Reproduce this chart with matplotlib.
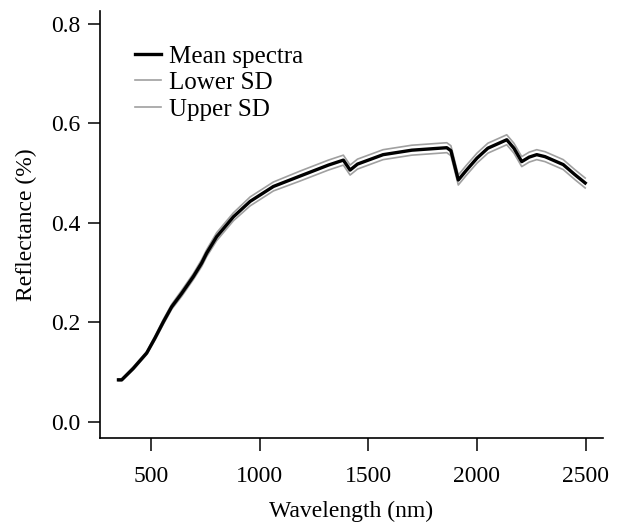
import matplotlib
matplotlib.use("Agg")
import matplotlib.pyplot as plt

# wavelength (nm) and reflectance
wavelength = [350, 365, 418, 480, 518, 557, 595, 641, 695, 733, 756, 802, 879, 956,
              1063, 1186, 1316, 1385, 1416, 1450, 1568, 1700, 1861, 1880, 1914, 1950,
              2000, 2050, 2137, 2170, 2206, 2240, 2275, 2313, 2397, 2450, 2498]
mean_spectra = [0.084, 0.084, 0.107, 0.138, 0.168, 0.201, 0.231, 0.258, 0.292, 0.319,
                0.339, 0.372, 0.412, 0.443, 0.473, 0.494, 0.516, 0.526, 0.506, 0.518,
                0.537, 0.546, 0.551, 0.545, 0.486, 0.505, 0.530, 0.550, 0.567, 0.550,
                0.523, 0.532, 0.537, 0.533, 0.517, 0.497, 0.480]
lower_sd = [0.082, 0.082, 0.104, 0.135, 0.164, 0.196, 0.226, 0.252, 0.286, 0.312,
            0.332, 0.364, 0.404, 0.434, 0.464, 0.484, 0.506, 0.516, 0.496, 0.508,
            0.527, 0.536, 0.541, 0.535, 0.476, 0.495, 0.520, 0.540, 0.557, 0.540,
            0.513, 0.522, 0.527, 0.523, 0.507, 0.487, 0.470]
upper_sd = [0.086, 0.086, 0.110, 0.141, 0.172, 0.206, 0.236, 0.264, 0.298, 0.326,
            0.346, 0.380, 0.420, 0.452, 0.482, 0.504, 0.526, 0.536, 0.516, 0.528,
            0.547, 0.556, 0.561, 0.555, 0.496, 0.515, 0.540, 0.560, 0.577, 0.560,
            0.533, 0.542, 0.547, 0.543, 0.527, 0.507, 0.490]

xticks = [500, 1000, 1500, 2000, 2500]
yticks = [0.0, 0.2, 0.4, 0.6, 0.8]

plt.rcParams['font.family'] = ['Liberation Serif', 'DejaVu Serif']
plt.rcParams['font.size'] = 17

fig = plt.figure(figsize=(6.21, 5.25), dpi=100)
ax = fig.add_axes([100/621, 87/525, 503/621, 427/525])

ax.plot(wavelength, mean_spectra, color='black', lw=2.4, label='Mean spectra', zorder=3)
ax.plot(wavelength, lower_sd, color='#a0a0a0', lw=1.2, label='Lower SD')
ax.plot(wavelength, upper_sd, color='#a0a0a0', lw=1.2, label='Upper SD')

ax.set_xlim(265, 2580)
ax.set_ylim(-0.033, 0.826)
ax.set_xticks(xticks)
ax.set_yticks(yticks)
ax.set_yticklabels([f"{v:.1f}" for v in yticks])
ax.spines['top'].set_visible(False)
ax.spines['right'].set_visible(False)
for s in ['left', 'bottom']:
    ax.spines[s].set_linewidth(1.2)
ax.tick_params(direction='out', length=9, width=1.1)
ax.tick_params(axis='x', pad=11)
ax.tick_params(axis='y', pad=5)

ax.set_xlabel('Wavelength (nm)', labelpad=10)
ax.set_ylabel('Reflectance (%)', labelpad=10)

ax.legend(loc='upper left', bbox_to_anchor=(0.07, 0.92), frameon=False, fontsize=18,
          handlelength=1.05, handletextpad=0.3, labelspacing=0.16, borderaxespad=0,
          borderpad=0)

fig.savefig('out.png', dpi=100)
